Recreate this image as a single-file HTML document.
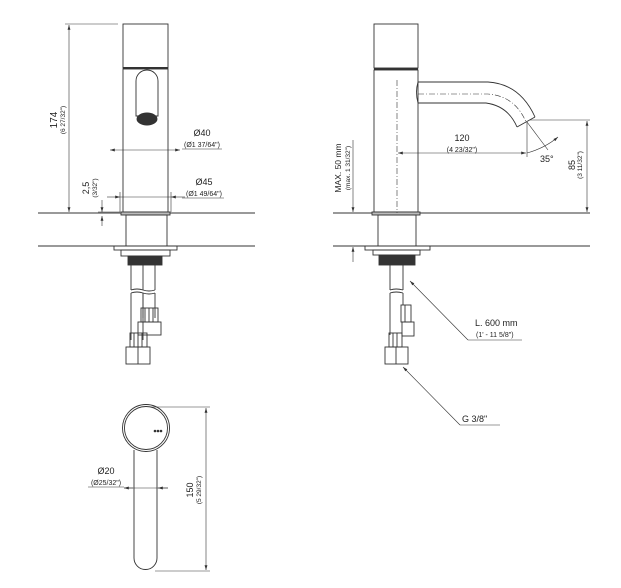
<!DOCTYPE html>
<html><head><meta charset="utf-8"><style>
html,body{margin:0;padding:0;background:#fff}
svg{display:block;font-family:"Liberation Sans",sans-serif}
</style></head><body>
<svg width="621" height="588" viewBox="0 0 621 588" xmlns="http://www.w3.org/2000/svg">
<defs>
<marker id="a" viewBox="0 0 10 6" refX="10" refY="3" markerWidth="8" markerHeight="5" orient="auto-start-reverse"><path d="M0,0L10,3L0,6z" fill="#333"/></marker>
</defs>
<g stroke="#333" fill="none" stroke-width="0.9">
<!-- counter lines -->
<line x1="38" y1="213" x2="255" y2="213"/><line x1="38" y1="246" x2="255" y2="246"/>
<line x1="333" y1="213" x2="590" y2="213"/><line x1="333" y1="246" x2="590" y2="246"/>

<!-- LEFT VIEW -->
<rect x="123" y="24" width="45" height="44"/>
<line x1="123" y1="68" x2="168" y2="68" stroke-width="2"/>
<rect x="123" y="69" width="45" height="143"/>
<rect x="121" y="212" width="49" height="3" fill="#bbb"/>
<rect x="126" y="215" width="41" height="31"/>
<rect x="114" y="246" width="63" height="4"/>
<rect x="121" y="250" width="49" height="6"/>
<rect x="128" y="256" width="34" height="9" fill="#333"/>
<path d="M136,81 a11,11 0 0 1 22,0 v35 h-22z"/>
<ellipse cx="147" cy="119" rx="10" ry="6" fill="#333"/>
<line x1="131" y1="265" x2="131" y2="290"/><line x1="143" y1="265" x2="143" y2="290"/><line x1="155" y1="265" x2="155" y2="290"/>
<path d="M131,290q6,-2 12,0q6,2 12,0"/><path d="M131,293q6,-2 12,0q6,2 12,0"/>
<line x1="131" y1="293" x2="131" y2="340"/><line x1="143" y1="293" x2="143" y2="340"/><line x1="143" y1="293" x2="143" y2="318"/><line x1="155" y1="293" x2="155" y2="318"/>
<rect x="141" y="308" width="17" height="14"/><line x1="145" y1="308" x2="145" y2="322"/><line x1="149" y1="308" x2="149" y2="322"/><line x1="153" y1="308" x2="153" y2="322"/>
<rect x="138" y="322" width="23" height="13"/>
<rect x="130" y="333" width="17" height="14"/><line x1="134" y1="333" x2="134" y2="347"/><line x1="138" y1="333" x2="138" y2="347"/><line x1="142" y1="333" x2="142" y2="347"/>
<rect x="126" y="347" width="24" height="17"/><line x1="138" y1="347" x2="138" y2="364"/>
<!-- 174 -->
<line x1="65" y1="24" x2="118" y2="24" stroke-width="0.6"/>
<line x1="69" y1="25" x2="69" y2="212" marker-start="url(#a)" marker-end="url(#a)" stroke-width="0.6"/>
<!-- Ø40 -->
<line x1="110" y1="150" x2="180" y2="150" marker-start="url(#a)" marker-end="url(#a)" stroke-width="0.6"/>
<line x1="182" y1="149" x2="222" y2="149" stroke-width="0.6"/>
<!-- Ø45 -->
<line x1="107" y1="197" x2="120" y2="197" marker-end="url(#a)" stroke-width="0.6"/>
<line x1="185" y1="197" x2="171" y2="197" marker-end="url(#a)" stroke-width="0.6"/>
<line x1="120" y1="197" x2="171" y2="197" stroke-width="0.6"/>
<line x1="120" y1="192" x2="120" y2="212" stroke-width="0.6"/><line x1="171" y1="192" x2="171" y2="212" stroke-width="0.6"/>
<line x1="182" y1="198" x2="224" y2="198" stroke-width="0.6"/>
<!-- 2,5 -->
<line x1="102" y1="200" x2="102" y2="212" marker-end="url(#a)" stroke-width="0.6"/>
<line x1="102" y1="226" x2="102" y2="216" marker-end="url(#a)" stroke-width="0.6"/>
<line x1="98" y1="212" x2="120" y2="212" stroke-width="0.6"/>

<!-- RIGHT VIEW -->
<rect x="374" y="24" width="44" height="44"/>
<line x1="374" y1="69" x2="418" y2="69" stroke-width="2"/>
<rect x="374" y="70" width="44" height="142"/>
<rect x="372" y="212" width="48" height="3" fill="#bbb"/>
<rect x="378" y="215" width="38" height="31"/>
<rect x="365" y="246" width="65" height="4"/>
<rect x="373" y="250" width="47" height="5"/>
<rect x="379" y="255" width="36" height="10" fill="#333"/>
<path d="M418,82 L488,82 Q520,84 535,117"/>
<path d="M418,103 L486,103 Q508,106 517,127"/>
<line x1="517" y1="127" x2="535" y2="117"/>
<path d="M418,82 q-3,10 0,21"/>
<path d="M397,80 V213" stroke-dasharray="6,2,1,2" stroke-width="0.6"/>
<path d="M418,94 H488 Q515,96 526,122" stroke-dasharray="6,2,1,2" stroke-width="0.6"/>
<line x1="390" y1="265" x2="390" y2="290"/><line x1="403" y1="265" x2="403" y2="290"/>
<path d="M390,290q6,-2 13,0"/><path d="M390,293q6,-2 13,0"/>
<line x1="390" y1="293" x2="390" y2="335"/><line x1="403" y1="293" x2="403" y2="305"/>
<rect x="401" y="305" width="10" height="17"/><line x1="405" y1="305" x2="405" y2="322"/>
<rect x="402" y="322" width="12" height="14"/>
<rect x="389" y="333" width="13" height="14"/><line x1="393" y1="333" x2="393" y2="347"/><line x1="397" y1="333" x2="397" y2="347"/>
<rect x="385" y="347" width="23" height="17"/><line x1="396" y1="347" x2="396" y2="364"/>
<!-- 120 -->
<line x1="398" y1="153" x2="526" y2="153" marker-start="url(#a)" marker-end="url(#a)" stroke-width="0.6"/>
<line x1="527" y1="122" x2="527" y2="157" stroke-width="0.6"/>
<line x1="527" y1="122" x2="548" y2="150" stroke-width="0.6"/>
<path d="M527,153 Q545,148 558,137" stroke-width="0.6" marker-end="url(#a)"/>
<!-- 85 -->
<line x1="530" y1="120" x2="590" y2="120" stroke-width="0.6"/>
<line x1="587" y1="121" x2="587" y2="212" marker-start="url(#a)" marker-end="url(#a)" stroke-width="0.6"/>
<!-- MAX 50 -->
<line x1="353" y1="140" x2="353" y2="212" marker-end="url(#a)" stroke-width="0.6"/>
<line x1="353" y1="262" x2="353" y2="247" marker-end="url(#a)" stroke-width="0.6"/>
<!-- leaders -->
<path d="M468,340 L410,281" marker-end="url(#a)" stroke-width="0.6"/>
<line x1="468" y1="340" x2="522" y2="340" stroke-width="0.6"/>
<path d="M460,425 L403,367" marker-end="url(#a)" stroke-width="0.6"/>
<line x1="460" y1="425" x2="500" y2="425" stroke-width="0.6"/>

<!-- BOTTOM VIEW -->
<path d="M134,450 V558 a11.5,11.5 0 0 0 23,0 V450"/>
<circle cx="146" cy="428" r="23.5" fill="#fff"/>
<circle cx="146" cy="428" r="21.5"/>
<line x1="150" y1="407" x2="210" y2="407" stroke-width="0.6"/>
<line x1="155" y1="571" x2="210" y2="571" stroke-width="0.6"/>
<line x1="206" y1="408" x2="206" y2="570" marker-start="url(#a)" marker-end="url(#a)" stroke-width="0.6"/>
<line x1="124" y1="488" x2="133" y2="488" marker-start="url(#a)" stroke-width="0.6"/>
<line x1="124" y1="488" x2="168" y2="488" stroke-width="0.6"/>
<path d="M168,488 H158" marker-end="url(#a)" stroke-width="0.6"/>
<line x1="88" y1="487" x2="124" y2="487" stroke-width="0.6"/>
</g>
<g fill="#333" stroke="none">
<circle cx="155" cy="431" r="1.3"/><circle cx="158" cy="431" r="1.3"/><circle cx="161" cy="431" r="1.3"/>
</g>
<g fill="#222" font-size="9">
<text transform="translate(57,120) rotate(-90)" text-anchor="middle" font-size="10">174</text>
<text transform="translate(65,120) rotate(-90)" text-anchor="middle" font-size="6.5">(6 27/32")</text>
<text x="202" y="136" text-anchor="middle">Ø40</text>
<text x="202" y="147" text-anchor="middle" font-size="7">(Ø1 37/64")</text>
<text x="204" y="185" text-anchor="middle">Ø45</text>
<text x="204" y="196" text-anchor="middle" font-size="7">(Ø1 49/64")</text>
<text transform="translate(89,188) rotate(-90)" text-anchor="middle">2,5</text>
<text transform="translate(97,188) rotate(-90)" text-anchor="middle" font-size="6.5">(3/32")</text>
<text x="462" y="141" text-anchor="middle">120</text>
<text x="462" y="152" text-anchor="middle" font-size="7">(4 23/32")</text>
<text x="540" y="162" font-size="9">35°</text>
<text transform="translate(575,165) rotate(-90)" text-anchor="middle">85</text>
<text transform="translate(582,165) rotate(-90)" text-anchor="middle" font-size="6.5">(3 11/32")</text>
<text transform="translate(341,168) rotate(-90)" text-anchor="middle" font-size="8.5">MAX. 50 mm</text>
<text transform="translate(350,168) rotate(-90)" text-anchor="middle" font-size="6.5">(max. 1 31/32")</text>
<text x="475" y="326" font-size="9">L. 600 mm</text>
<text x="476" y="337" font-size="7">(1' - 11 5/8")</text>
<text x="462" y="422" font-size="9">G 3/8"</text>
<text x="106" y="474" text-anchor="middle">Ø20</text>
<text x="106" y="485" text-anchor="middle" font-size="7">(Ø25/32")</text>
<text transform="translate(193,490) rotate(-90)" text-anchor="middle">150</text>
<text transform="translate(201,490) rotate(-90)" text-anchor="middle" font-size="6.5">(5 29/32")</text>
</g>
</svg>
</body></html>
